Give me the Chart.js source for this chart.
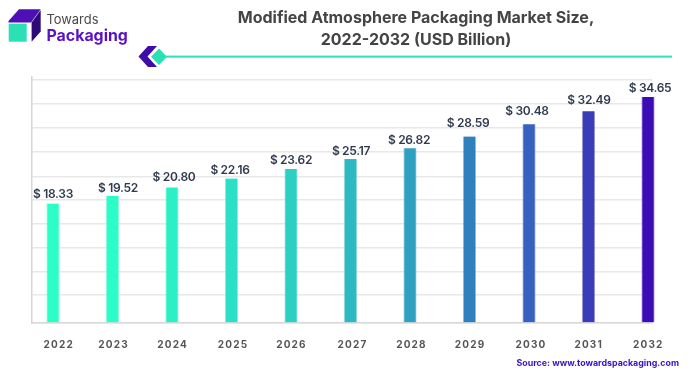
<!DOCTYPE html>
<html>
<head>
<meta charset="utf-8">
<style>
html,body{margin:0;padding:0;background:#fff;width:700px;height:375px;overflow:hidden}
#wrap{position:relative;width:700px;height:375px}
</style>
<script src="https://cdn.jsdelivr.net/npm/chart.js@4"></script>
</head>
<body>
<div id="wrap"><canvas id="c" width="700" height="375"></canvas></div>
<script>
const years = [2022,2023,2024,2025,2026,2027,2028,2029,2030,2031,2032];
const values = [18.33,19.52,20.80,22.16,23.62,25.17,26.82,28.59,30.48,32.49,34.65];
const barColors = ['#2BFFC6','#2BFCC8','#2BF0C6','#2BE0C4','#2CCFC2','#2DB9C2','#2FA0C0','#3080BE','#3462BE','#3A3CB8','#3B0DB5'];
const gridValues = [0,4.3,7.8,11.5,15.2,18.9,22.5,26.2,29.9,33.6,37.27];
const titleLines = ['Modified Atmosphere Packaging Market Size,','2022-2032 (USD Billion)'];
const sourceText = 'Source: www.towardspackaging.com';

// small hand-placement nudges of the reference's text relative to its bars
const labelShiftX = [0,5.5,2,-1.5,0,0.5,-1,-1.5,-2,0.5,2];
const labelGap = [8.6,7.3,10,8.3,8.3,7.3,7.6,13,13,10.3,8.6];
const tickShiftX = [5.7,1,0.7,1.5,0.5,2,1.5,0.5,2,0.2,0.3];
const yearPixels = 59.5;

function poly(ctx, pts, fill){
  ctx.fillStyle = fill; ctx.beginPath();
  pts.forEach((p,i)=> i?ctx.lineTo(p[0],p[1]):ctx.moveTo(p[0],p[1]));
  ctx.closePath(); ctx.fill();
}
const decor = {
  id:'decor',
  beforeDraw(chart){
    const ctx = chart.ctx;
    ctx.save();
    ctx.fillStyle='#fff'; ctx.fillRect(0,0,700,375);
    // logo
    poly(ctx,[[8.5,21],[19,9.3],[40.7,9.3],[31,22.5],[8.5,22.5]],'#4E0FB4');
    poly(ctx,[[31.6,22.5],[40.7,10],[40.7,31.5],[31.6,41.7]],'#2C0A78');
    poly(ctx,[[8.7,23.7],[26.7,23.7],[26.7,41.7],[8.7,41.7]],'#2BE0B4');
    ctx.textBaseline='alphabetic'; ctx.textAlign='left';
    ctx.fillStyle='#4a4a4a'; ctx.font='400 12.9px Inter';
    ctx.fillText('Towards',46.5,24);
    ctx.fillStyle='#5A10C4'; ctx.font='700 15.9px Inter';
    ctx.fillText('Packaging',46.5,41);
    // title
    ctx.textAlign='center'; ctx.fillStyle='#444444'; ctx.font='700 16px Inter';
    ctx.fillText(titleLines[0],416,23);
    ctx.fillText(titleLines[1],416,45);
    // rule + ornament
    ctx.fillStyle='#2EE0B8'; ctx.fillRect(162,55.6,510,2);
    poly(ctx,[[148,46],[157,46],[147.5,56.5],[157,67],[148,67],[138.5,56.5]],'#3E0CA6');
    poly(ctx,[[159,48.5],[167,56.7],[159,65],[151,56.7]],'#2BE0B4');
    // axis top stub
    ctx.fillStyle='#d6d6d6'; ctx.fillRect(31,76,1.5,5);
    // source
    ctx.textAlign='left'; ctx.fillStyle='#3A10C8'; ctx.font='700 8.85px Inter';
    ctx.fillText(sourceText,516.5,365.5);
    ctx.restore();
    ctx.letterSpacing='1.2px';
  },
  afterDatasetsDraw(chart){
    const ctx = chart.ctx, meta = chart.getDatasetMeta(0);
    ctx.save();
    ctx.letterSpacing='-0.3px';
    ctx.font='600 12px Inter'; ctx.fillStyle='#2F3A4F';
    ctx.textAlign='center'; ctx.textBaseline='middle';
    meta.data.forEach((bar,i)=>{
      ctx.fillText('$ '+values[i].toFixed(2), bar.x+labelShiftX[i], bar.y-labelGap[i]);
    });
    ctx.restore();
  },
  afterDraw(chart){ chart.ctx.letterSpacing='0px'; }
};

new Chart(document.getElementById('c'),{
  type:'bar',
  data:{datasets:[{
    data:years.map((y,i)=>({x:y,y:values[i]})),
    backgroundColor:barColors,
    borderColor:barColors.map(c=>c+'80'),
    borderWidth:{left:1,right:1,top:0,bottom:0},
    borderSkipped:false,
    barThickness:12.5,
    clip:false
  }]},
  plugins:[decor],
  options:{
    responsive:false,animation:false,
    layout:{padding:{left:31.5,right:48,top:80,bottom:25}},
    plugins:{legend:{display:false},tooltip:{enabled:false},title:{display:false}},
    scales:{
      x:{
        type:'linear',offset:false,min:2021.639,max:2032.067,
        afterBuildTicks(s){s.ticks=years.map((v,i)=>({value:v+tickShiftX[i]/yearPixels}));},
        afterFit(s){s.height=27;},
        grid:{display:false},
        border:{color:'#d8d8d8',width:1.5},
        ticks:{autoSkip:false,maxRotation:0,padding:8,color:'#555555',
          font:{family:'Inter',size:10,weight:'700'},
          callback:v=>String(Math.round(v))}
      },
      y:{
        min:0,max:37.27,
        afterBuildTicks(s){s.ticks=gridValues.map(v=>({value:v}));},
        afterFit(s){s.width=0;},
        grid:{color:'#e8e8e8',lineWidth:1.5,drawTicks:false},
        border:{color:'#d6d6d6',width:1.5},
        ticks:{display:false}
      }
    }
  }
});
</script>
</body>
</html>
